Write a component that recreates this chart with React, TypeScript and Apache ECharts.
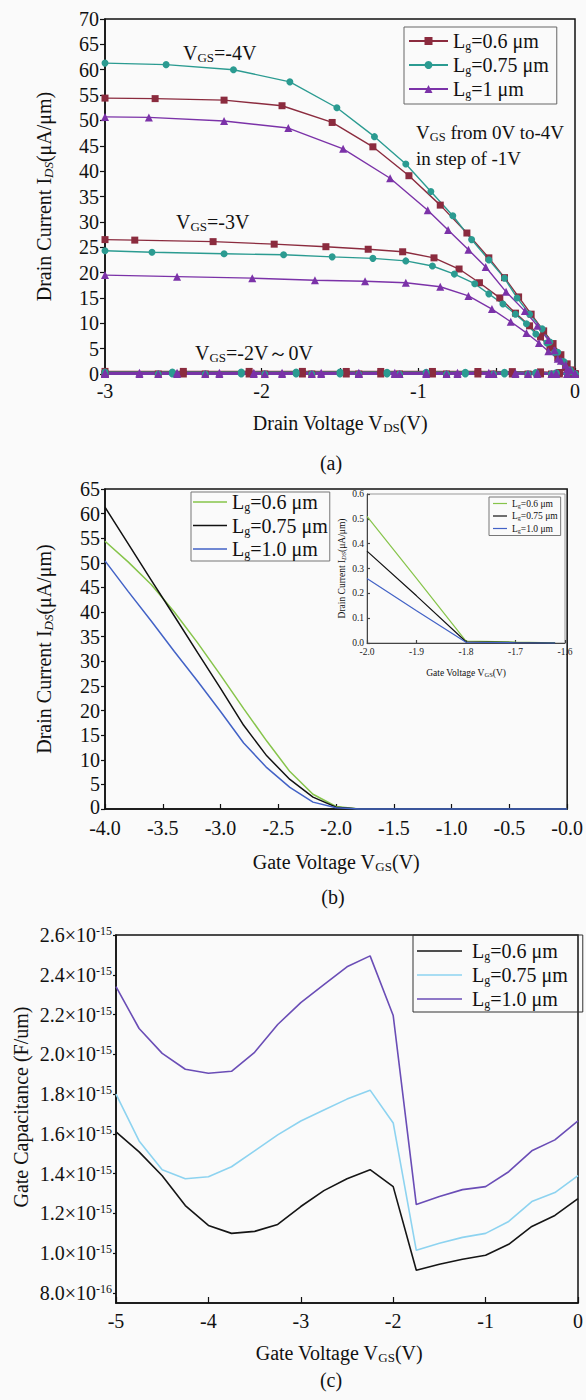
import React, { useEffect, useRef } from "react";
import * as echarts from "echarts";

const FONT = "'Liberation Serif', 'Times New Roman', Times, serif";
const INK = "#111111";

// ---------- Panel (a): drain current I_DS (μA/μm) vs drain voltage V_DS (V) ----------
// V_GS = -4 V
const A_VDS_06_M4 = [-3, -2.68, -2.24, -1.87, -1.55, -1.29, -1.06, -0.86, -0.69, -0.55, -0.45, -0.36, -0.28, -0.2, -0.14, -0.09, -0.05, -0.02, 0];
const A_IDS_06_M4 = [54.4, 54.3, 54.0, 52.9, 49.6, 44.8, 39.1, 33.3, 27.8, 22.9, 19.0, 15.2, 11.8, 8.5, 6.0, 3.8, 2.0, 0.8, 0];
const A_VDS_075_M4 = [-3, -2.61, -2.18, -1.82, -1.52, -1.28, -1.08, -0.92, -0.78, -0.66, -0.55, -0.45, -0.37, -0.29, -0.21, -0.16, -0.11, -0.07, -0.03, 0];
const A_IDS_075_M4 = [61.3, 61.0, 60.0, 57.6, 52.5, 46.8, 41.4, 36.0, 31.2, 26.5, 22.5, 18.9, 15.0, 11.8, 8.9, 6.3, 4.3, 2.4, 0.8, 0];
const A_VDS_1_M4 = [-3, -2.72, -2.24, -1.83, -1.48, -1.18, -0.94, -0.81, -0.68, -0.57, -0.44, -0.32, -0.24, -0.17, -0.13, -0.09, -0.05, 0];
const A_IDS_1_M4 = [50.7, 50.6, 49.9, 48.5, 44.4, 38.6, 32.3, 28.4, 24.5, 21.1, 16.2, 12.4, 9.5, 6.7, 4.7, 2.6, 1.0, 0];
// V_GS = -3 V
const A_VDS_06_M3 = [-3, -2.81, -2.31, -1.92, -1.59, -1.32, -1.1, -0.9, -0.74, -0.61, -0.48, -0.38, -0.29, -0.22, -0.16, -0.11, -0.06, 0];
const A_IDS_06_M3 = [26.5, 26.4, 26.1, 25.6, 25.1, 24.6, 24.1, 22.9, 20.7, 18.0, 15.0, 12.0, 9.5, 7.3, 5.1, 3.2, 1.2, 0];
const A_VDS_075_M3 = [-3, -2.7, -2.24, -1.86, -1.55, -1.29, -1.08, -0.91, -0.77, -0.64, -0.55, -0.46, -0.38, -0.31, -0.25, -0.18, -0.13, -0.08, -0.04, 0];
const A_IDS_075_M3 = [24.3, 24.0, 23.7, 23.5, 23.1, 22.8, 22.3, 21.3, 19.7, 17.8, 15.8, 13.8, 11.8, 9.9, 7.9, 6.1, 4.3, 2.4, 0.8, 0];
const A_VDS_1_M3 = [-3, -2.54, -2.06, -1.66, -1.34, -1.08, -0.86, -0.68, -0.53, -0.41, -0.31, -0.23, -0.17, -0.11, -0.06, -0.03, 0];
const A_IDS_1_M3 = [19.5, 19.2, 18.9, 18.5, 18.3, 18.0, 17.2, 15.4, 12.8, 10.3, 8.1, 6.1, 4.5, 3.0, 1.8, 0.8, 0];
// V_GS = -2 V ... 0 V (near zero)
const A_VDS_06_LOW = [-3, -2.5, -2.08, -1.74, -1.46, -1.24, -0.91, -0.62, -0.4, -0.22, -0.1, -0.04, 0];
const A_IDS_06_M2 = [0.51, 0.51, 0.51, 0.51, 0.5, 0.5, 0.5, 0.49, 0.47, 0.42, 0.3, 0.15, 0];
const A_IDS_06_M1 = [0, 0, 0, 0, 0, 0, 0, 0, 0, 0, 0, 0, 0];
const A_VDS_075_LOW = [-3, -2.57, -2.13, -1.78, -1.5, -1.2, -0.95, -0.7, -0.45, -0.25, -0.12, -0.05, 0];
const A_IDS_075_M2 = [0.37, 0.37, 0.37, 0.37, 0.37, 0.36, 0.36, 0.35, 0.34, 0.3, 0.22, 0.11, 0];
const A_IDS_075_M1 = [0, 0, 0, 0, 0, 0, 0, 0, 0, 0, 0, 0, 0];
const A_VDS_1_LOW = [-3, -2.78, -2.54, -2.27, -2.05, -1.87, -1.62, -1.38, -1.15, -0.95, -0.75, -0.55, -0.38, -0.24, -0.12, -0.05, 0];
const A_IDS_1_M2 = [0.26, 0.26, 0.26, 0.26, 0.26, 0.26, 0.26, 0.26, 0.26, 0.25, 0.25, 0.24, 0.22, 0.19, 0.14, 0.07, 0];
const A_IDS_1_M1 = [0, 0, 0, 0, 0, 0, 0, 0, 0, 0, 0, 0, 0, 0, 0, 0, 0];
const A_VDS_ZERO = [-3, -2.66, -2.36, -1.98, -1.68, -1.38, -1.12, -0.82, -0.52, -0.3, -0.15, 0];
const A_IDS_ZERO = [0, 0, 0, 0, 0, 0, 0, 0, 0, 0, 0, 0];

// ---------- Panel (b): I_DS vs gate voltage V_GS ----------
const B_VGS = [-4.0, -3.8, -3.6, -3.4, -3.2, -3.0, -2.8, -2.6, -2.4, -2.2, -2.0, -1.8, -1.6, -1.4, -1.2, -1.0, -0.8, -0.6, -0.4, -0.2, 0.0];
const B_IDS_06 = [54.4, 50.2, 45.6, 40.0, 33.8, 27.2, 20.4, 13.8, 7.6, 3.0, 0.51, 0.01, 0, 0, 0, 0, 0, 0, 0, 0, 0];
const B_IDS_075 = [61.3, 53.9, 46.5, 39.2, 31.8, 24.5, 17.0, 10.8, 6.0, 2.4, 0.37, 0.005, 0, 0, 0, 0, 0, 0, 0, 0, 0];
const B_IDS_10 = [50.4, 44.2, 38.2, 32.0, 26.0, 19.8, 13.4, 8.4, 4.4, 1.4, 0.26, 0.003, 0, 0, 0, 0, 0, 0, 0, 0, 0];
// inset (zoom of the sub-threshold region)
const I_VGS = [-2.0, -1.9, -1.8, -1.7, -1.62];
const I_IDS_06 = [0.51, 0.26, 0.008, 0.004, 0.001];
const I_IDS_075 = [0.37, 0.19, 0.005, 0.002, 0.0];
const I_IDS_10 = [0.26, 0.13, 0.003, 0.001, 0.0];

// ---------- Panel (c): gate capacitance (×1e-15 F/um) vs V_GS ----------
const C_VGS = [-5, -4.75, -4.5, -4.25, -4, -3.75, -3.5, -3.25, -3, -2.75, -2.5, -2.25, -2, -1.75, -1.5, -1.25, -1, -0.75, -0.5, -0.25, 0];
const C_CG_06 = [1.61, 1.51, 1.39, 1.24, 1.14, 1.10, 1.11, 1.145, 1.235, 1.315, 1.375, 1.42, 1.335, 0.915, 0.945, 0.97, 0.99, 1.045, 1.135, 1.19, 1.275];
const C_CG_075 = [1.80, 1.565, 1.42, 1.375, 1.385, 1.435, 1.515, 1.595, 1.665, 1.72, 1.775, 1.82, 1.655, 1.015, 1.05, 1.08, 1.10, 1.16, 1.26, 1.305, 1.39];
const C_CG_10 = [2.34, 2.13, 2.005, 1.925, 1.905, 1.915, 2.01, 2.15, 2.26, 2.35, 2.44, 2.495, 2.195, 1.245, 1.285, 1.32, 1.335, 1.41, 1.515, 1.57, 1.665];

const LEGEND_TEXT: Record<string, string> = {
  a06: "{t|L}{s|g}{t|=0.6 μm}",
  a075: "{t|L}{s|g}{t|=0.75 μm}",
  a1: "{t|L}{s|g}{t|=1 μm}",
  b06: "{t|L}{s|g}{t|=0.6 μm}",
  b075: "{t|L}{s|g}{t|=0.75 μm}",
  b10: "{t|L}{s|g}{t|=1.0 μm}",
  i06: "{t|L}{s|g}{t|=0.6 μm}",
  i075: "{t|L}{s|g}{t|=0.75 μm}",
  i10: "{t|L}{s|g}{t|=1.0 μm}",
  c06: "{f|L}{s|g}{t|=0.6 μm}",
  c075: "{f|L}{s|g}{t|=0.75 μm}",
  c10: "{f|L}{s|g}{t|=1.0 μm}",
};

const zip = (xs: number[], ys: number[]) => xs.map((x, i) => [x, ys[i]]);
const main = (size: number, lh: number, extra: any = {}) => ({ fontSize: size, fontFamily: FONT, lineHeight: lh, color: INK, verticalAlign: "middle", ...extra });
const sub = (size: number, extra: any = {}) => ({ fontSize: size, fontFamily: FONT, lineHeight: size, color: INK, verticalAlign: "bottom", ...extra });
const sup = (size: number) => ({ fontSize: size, fontFamily: FONT, lineHeight: size, color: INK, verticalAlign: "top" });

function buildOption(): any {
  const series: any[] = [];
  const lineSeries = (name: string, ax: number, data: number[][], color: string, width: number, symbol: string, size: number) =>
    series.push({
      type: "line",
      name,
      xAxisIndex: ax,
      yAxisIndex: ax,
      data,
      symbol,
      symbolSize: size,
      showSymbol: symbol !== "none",
      lineStyle: { color, width },
      itemStyle: { color },
      clip: false,
      z: 3,
    });

  const A06 = "#8b2b3e";
  const A075 = "#2b9b91";
  const A1 = "#7b32a8";
  const addA = (name: string, color: string, symbol: string, size: number, curves: [number[], number[]][]) =>
    curves.forEach(([xs, ys]) => lineSeries(name, 0, zip(xs, ys), color, 1.4, symbol, size));
  addA("a06", A06, "rect", 7, [
    [A_VDS_06_M4, A_IDS_06_M4],
    [A_VDS_06_M3, A_IDS_06_M3],
    [A_VDS_06_LOW, A_IDS_06_M2],
    [A_VDS_06_LOW, A_IDS_06_M1],
    [A_VDS_ZERO, A_IDS_ZERO],
  ]);
  addA("a075", A075, "circle", 7, [
    [A_VDS_075_M4, A_IDS_075_M4],
    [A_VDS_075_M3, A_IDS_075_M3],
    [A_VDS_075_LOW, A_IDS_075_M2],
    [A_VDS_075_LOW, A_IDS_075_M1],
    [A_VDS_ZERO, A_IDS_ZERO],
  ]);
  addA("a1", A1, "triangle", 8, [
    [A_VDS_1_M4, A_IDS_1_M4],
    [A_VDS_1_M3, A_IDS_1_M3],
    [A_VDS_1_LOW, A_IDS_1_M2],
    [A_VDS_1_LOW, A_IDS_1_M1],
    [A_VDS_ZERO, A_IDS_ZERO],
  ]);

  const BG = "#86c44a";
  const BK = "#111111";
  const BB = "#4262c6";
  lineSeries("b06", 1, zip(B_VGS, B_IDS_06), BG, 1.5, "none", 0);
  lineSeries("b075", 1, zip(B_VGS, B_IDS_075), BK, 1.5, "none", 0);
  lineSeries("b10", 1, zip(B_VGS, B_IDS_10), BB, 1.5, "none", 0);
  lineSeries("i06", 2, zip(I_VGS, I_IDS_06), BG, 1.2, "none", 0);
  lineSeries("i075", 2, zip(I_VGS, I_IDS_075), BK, 1.2, "none", 0);
  lineSeries("i10", 2, zip(I_VGS, I_IDS_10), BB, 1.2, "none", 0);

  lineSeries("c06", 3, zip(C_VGS, C_CG_06), "#151515", 1.6, "none", 0);
  lineSeries("c075", 3, zip(C_VGS, C_CG_075), "#8dd3f0", 1.6, "none", 0);
  lineSeries("c10", 3, zip(C_VGS, C_CG_10), "#6a4db6", 1.6, "none", 0);

  const axisLine = (color = INK, width = 1.5) => ({ show: true, onZero: false, lineStyle: { color, width } });
  const label = (size: number, margin: number, formatter?: any, color = INK) => ({
    show: true,
    fontFamily: FONT,
    fontSize: size,
    lineHeight: Math.round(size * 0.8),
    color,
    margin,
    ...(formatter ? { formatter } : {}),
  });
  const tick = (inside: boolean, length: number, color = INK) => ({ show: true, inside, length, lineStyle: { color, width: 1.2 } });
  const isInt = (v: number) => Math.abs(v - Math.round(v)) < 1e-9;

  const idsName = "{t|Drain Current I}{s|DS}{t|(μA/μm)}";
  const vgsName = "{t|Gate Voltage V}{s|GS}{t|(V)}";

  const xAxis = [
    {
      gridIndex: 0, type: "value", min: -3, max: 0, interval: 0.5,
      axisLine: axisLine(), axisTick: tick(true, 6),
      axisLabel: label(20, 9, (v: number) => (isInt(v) ? String(Math.round(v)) : "")),
      splitLine: { show: false },
      name: "{t|Drain Voltage V}{s|DS}{t|(V)}", nameLocation: "middle", nameGap: 38,
      nameTextStyle: { rich: { t: main(20, 22), s: sub(13) } },
    },
    {
      gridIndex: 1, type: "value", min: -4, max: 0, interval: 0.5,
      axisLine: axisLine(), axisTick: tick(true, 5),
      axisLabel: label(20, 11, (v: number) => (Math.abs(v) < 1e-9 ? "-0.0" : v.toFixed(1))),
      splitLine: { show: false },
      name: vgsName, nameLocation: "middle", nameGap: 42,
      nameTextStyle: { rich: { t: main(20, 22), s: sub(13) } },
    },
    {
      gridIndex: 2, type: "value", min: -2, max: -1.6, interval: 0.1,
      axisLine: axisLine("#444", 1), axisTick: tick(true, 3, "#444"),
      axisLabel: label(9.5, 5, (v: number) => v.toFixed(1), "#222"),
      splitLine: { show: false },
      name: vgsName, nameLocation: "middle", nameGap: 24,
      nameTextStyle: { rich: { t: main(9.5, 11), s: sub(6.5) } },
    },
    {
      gridIndex: 3, type: "value", min: -5, max: 0, interval: 1,
      axisLine: axisLine(), axisTick: tick(true, 6),
      axisLabel: label(20, 10),
      splitLine: { show: false },
    },
    { gridIndex: 4, type: "value", min: 0, max: 1, show: false },
  ];

  const capLabel = (v: number) => {
    const r = Math.round(v * 10) / 10;
    if (r < 1 - 1e-9) return `{m|${(r * 10).toFixed(1)}×10}{e|-16}`;
    return `{m|${r.toFixed(1)}×10}{e|-15}`;
  };

  const yAxis = [
    {
      gridIndex: 0, type: "value", min: 0, max: 70, interval: 5,
      axisLine: axisLine(), axisTick: tick(false, 5),
      axisLabel: label(20, 6), splitLine: { show: false },
      name: idsName, nameLocation: "middle", nameRotate: 90, nameGap: 50,
      nameTextStyle: { rich: { t: main(20, 22), s: sub(13, { fontStyle: "italic" }) } },
    },
    {
      gridIndex: 1, type: "value", min: 0, max: 65, interval: 5,
      axisLine: axisLine(), axisTick: tick(false, 4),
      axisLabel: {
        ...label(20, 5, (v: number) => (Math.abs(v) < 1e-9 ? "{z|0}" : String(v))),
        rich: { z: { fontSize: 20, fontFamily: FONT, color: INK, lineHeight: 16, padding: [0, 0, 5, 0] } },
      },
      splitLine: { show: false },
      name: idsName, nameLocation: "middle", nameRotate: 90, nameGap: 50,
      nameTextStyle: { rich: { t: main(20, 22), s: sub(13, { fontStyle: "italic" }) } },
    },
    {
      gridIndex: 2, type: "value", min: 0, max: 0.6, interval: 0.1,
      axisLine: axisLine("#444", 1), axisTick: tick(true, 3, "#444"),
      axisLabel: label(9.5, 3, (v: number) => v.toFixed(1), "#222"), splitLine: { show: false },
      name: idsName, nameLocation: "middle", nameRotate: 90, nameGap: 20,
      nameTextStyle: { rich: { t: main(9.5, 11), s: sub(6.5, { fontStyle: "italic" }) } },
    },
    {
      gridIndex: 3, type: "value", min: 0.75, max: 2.6,
      axisLine: axisLine(), axisTick: { show: false }, axisLabel: { show: false }, splitLine: { show: false },
    },
    {
      gridIndex: 4, type: "value", min: 0.8, max: 2.6, interval: 0.2,
      axisLine: { show: false, onZero: false }, axisTick: tick(false, 3),
      axisLabel: { ...label(20, 4, capLabel), rich: { m: main(20, 20), e: sup(12) } },
      splitLine: { show: false },
    },
  ];

  const grid = [
    { left: 105, top: 19, width: 470, height: 355, show: true, borderColor: INK, borderWidth: 1.5, backgroundColor: "transparent" },
    { left: 105, top: 489, width: 468, height: 320, show: true, borderColor: INK, borderWidth: 1.5, backgroundColor: "transparent" },
    { left: 367, top: 494, width: 198, height: 149, show: true, borderColor: "#999", borderWidth: 1, backgroundColor: "#fafafa" },
    { left: 116, top: 935, width: 469, height: 368, show: true, borderColor: INK, borderWidth: 1.5, backgroundColor: "transparent" },
    { left: 116, top: 935, width: 469, height: 358, show: false },
  ];

  const legendBase = (size: number, lh: number, subSize: number) => ({
    orient: "vertical",
    selectedMode: false,
    formatter: (n: string) => LEGEND_TEXT[n],
    borderWidth: 1,
    textStyle: {
      fontFamily: FONT,
      fontSize: size,
      color: INK,
      rich: { t: main(size, lh), f: main(size, lh, { padding: [0, 0, 0, 5] }), s: sub(subSize) },
    },
  });

  const legend = [
    { ...legendBase(20, 22, 12), left: 404, top: 27, data: ["a06", "a075", "a1"], itemWidth: 39, itemHeight: 10, itemGap: 3, padding: [4, 8, 4, 4], borderColor: "#666" },
    { ...legendBase(20, 22, 12), left: 191, top: 492, data: ["b06", "b075", "b10"], icon: "rect", itemWidth: 34, itemHeight: 1.5, itemGap: 2.5, padding: [0, 2, 1, 2], borderColor: "#777" },
    { ...legendBase(9.5, 11, 6), left: 489, top: 497, data: ["i06", "i075", "i10"], icon: "rect", itemWidth: 14, itemHeight: 1.2, itemGap: 2, padding: [1.5, 3, 1.5, 4], borderColor: "#777" },
    { ...legendBase(20, 22, 12), left: 413, top: 935, data: ["c06", "c075", "c10"], icon: "rect", itemWidth: 45, itemHeight: 1.5, itemGap: 3, padding: [6, 15, 2, 4], borderColor: "#333" },
  ];

  const vgsRich = { v: main(20, 22), s: sub(13) };
  const txt = (x: number, y: number, text: string, rich: any, extra: any = {}) => ({
    type: "text",
    x,
    y,
    z: 10,
    style: { text, rich, fill: INK, fontFamily: FONT, fontSize: 20, align: "left", verticalAlign: "middle", ...extra },
  });

  const graphic = [
    txt(183, 53, "{v|V}{s|GS}{v|=-4V}", vgsRich),
    txt(176, 222, "{v|V}{s|GS}{v|=-3V}", vgsRich),
    txt(195, 353, "{v|V}{s|GS}{v|=-2V～0V}", vgsRich),
    txt(416, 132, "{v|V}{s|GS}{v| from 0V to-4V}", { v: main(19, 22), s: sub(12.5) }),
    txt(416, 158, "{v|in step of -1V}", { v: main(19, 22) }),
    txt(331, 463, "{v|(a)}", vgsRich, { align: "center" }),
    txt(333, 897, "{v|(b)}", vgsRich, { align: "center" }),
    txt(339, 1353, "{v|Gate Voltage V}{s|GS}{v|(V)}", vgsRich, { align: "center" }),
    txt(331, 1380, "{v|(c)}", vgsRich, { align: "center" }),
    {
      type: "text",
      x: 21,
      y: 1107,
      rotation: Math.PI / 2,
      z: 10,
      style: { text: "Gate Capacitance (F/um)", fill: INK, fontFamily: FONT, fontSize: 20, align: "center", verticalAlign: "middle" },
    },
  ];

  return {
    animation: false,
    backgroundColor: "#fafafa",
    textStyle: { fontFamily: FONT },
    grid,
    xAxis,
    yAxis,
    legend,
    series,
    graphic,
  };
}

export default function App() {
  const ref = useRef<HTMLDivElement>(null);
  useEffect(() => {
    if (!ref.current) return;
    const chart = echarts.init(ref.current, null, { renderer: "svg" });
    chart.setOption(buildOption());
    return () => chart.dispose();
  }, []);
  return (
    <div
      ref={ref}
      style={{ position: "absolute", left: 0, top: 0, width: 586, height: 1400, background: "#fafafa" }}
    />
  );
}
